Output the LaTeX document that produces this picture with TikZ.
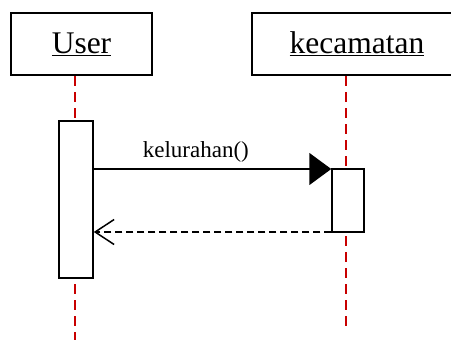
\documentclass[tikz,border=0pt]{standalone}
\usepackage{fontspec}
\setmainfont{Liberation Serif}
\usetikzlibrary{arrows.meta}
\definecolor{lifered}{RGB}{200,0,0}
\begin{document}
\begin{tikzpicture}[x=1pt,y=-1pt,
  obj/.style={draw, line width=1.5pt, fill=white, inner sep=0pt, font=\fontsize{31.5}{36}\selectfont},
  life/.style={draw=lifered, line width=2pt, dash pattern=on 10pt off 6pt},
  bar/.style={draw, line width=1.5pt, fill=white, inner sep=0pt},
  msg/.style={line width=1.6pt},
  lbl/.style={font=\fontsize{23}{26}\selectfont, inner sep=0pt}]
\useasboundingbox (0,0) rectangle (451,340);
% objects
\node[obj, minimum width=141pt, minimum height=62pt] (user) at (81.5,44) {\underline{User}};
\node[obj, minimum width=210pt, minimum height=62pt] (kec) at (357,44) {\underline{kecamatan}};
% lifelines
\coordinate (uTop) at (75,76);
\coordinate (uBot) at (75,340);
\coordinate (kTop) at (346,76);
\coordinate (kBot) at (346,327);
\draw[life] (uTop) -- (uBot);
\draw[life] (kTop) -- (kBot);
% activation bars
\node[bar, minimum width=34pt, minimum height=157pt] (ubar) at (76,199.5) {};
\node[bar, minimum width=32pt, minimum height=63pt] (kbar) at (348,200.5) {};
% messages
\draw[msg, -{Triangle[length=22pt,width=32pt]}] (ubar.east |- 0,169) -- (kbar.west |- 0,169)
  node[lbl, pos=0.43, above=6pt] (m1) {kelurahan()};
\draw[msg, dash pattern=on 7pt off 4pt, -{Straight Barb[length=19pt,width=25pt,line width=1.5pt]}] (kbar.west |- 0,232) -- (ubar.east |- 0,232);
\end{tikzpicture}
\end{document}
